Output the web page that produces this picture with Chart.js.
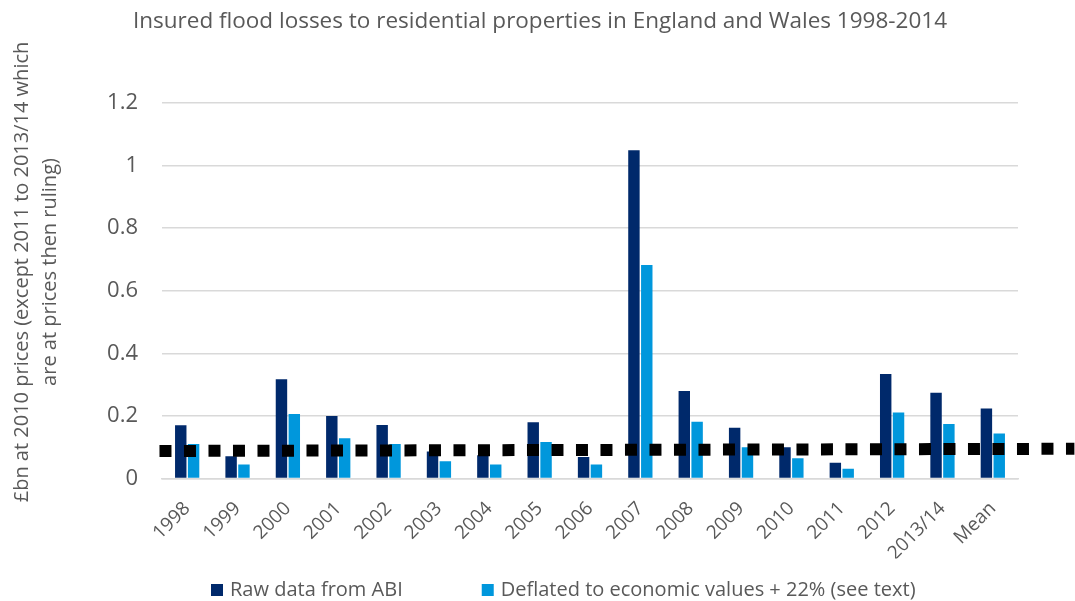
<!DOCTYPE html>
<html>
<head>
<meta charset="utf-8">
<title>Insured flood losses</title>
<script src="https://cdn.jsdelivr.net/npm/chart.js"></script>
<style>
  body { margin: 0; background: #fff; }
  #wrap { width: 1075px; height: 601px; }
</style>
</head>
<body>
<div id="wrap"><canvas id="grafica"></canvas></div>
<script>
// data (£bn)
const years = ['1998','1999','2000','2001','2002','2003','2004','2005','2006','2007','2008','2009','2010','2011','2012','2013/14','Mean'];
const rawABI = [0.170, 0.071, 0.317, 0.200, 0.171, 0.086, 0.074, 0.180, 0.069, 1.049, 0.280, 0.162, 0.100, 0.050, 0.334, 0.274, 0.224];
const deflated = [0.110, 0.045, 0.206, 0.129, 0.110, 0.055, 0.045, 0.117, 0.045, 0.682, 0.181, 0.100, 0.065, 0.031, 0.211, 0.174, 0.144];
// dotted trend line: x in category index units (runs past the plot edge), y in £bn
const trendX = [-0.55, 17.62];
const trendY = [0.088, 0.095];
const yTicks = [0, 0.2, 0.4, 0.6, 0.8, 1, 1.2];

const FONT = '"Open Sans", "Noto Sans", sans-serif';
const GREY = '#595959';

// y axis title, two lines
const yTitle = ['£bn at 2010 prices (except 2011 to 2013/14 which', 'are at prices then ruling)'];

const extras = {
  id: 'extras',
  // dotted line over the bars, placed with the chart's own scales
  afterDatasetsDraw(chart) {
    const { ctx, scales: { x, y } } = chart;
    ctx.save();
    ctx.strokeStyle = '#000';
    ctx.lineWidth = 12;
    ctx.lineCap = 'butt';
    ctx.setLineDash([12, 12.5]);
    ctx.beginPath();
    trendX.forEach((v, i) => {
      const px = x.getPixelForValue(v), py = y.getPixelForValue(trendY[i]);
      i ? ctx.lineTo(px, py) : ctx.moveTo(px, py);
    });
    ctx.stroke();
    ctx.restore();
  },
  afterDraw(chart) {
    const ctx = chart.ctx;
    ctx.save();
    // y title
    ctx.fillStyle = GREY;
    ctx.font = '20px ' + FONT;
    ctx.textAlign = 'center';
    ctx.textBaseline = 'middle';
    ctx.translate(0, 272);
    ctx.rotate(-Math.PI / 2);
    ctx.fillText(yTitle[0], 0, 22);
    ctx.fillText(yTitle[1], 0, 50);
    ctx.restore();

    // legend
    ctx.save();
    ctx.font = '20px ' + FONT;
    ctx.textBaseline = 'middle';
    ctx.textAlign = 'left';
    let lx = 211;
    const ly = 590;
    chart.data.datasets.forEach(d => {
      ctx.fillStyle = d.backgroundColor;
      ctx.fillRect(lx, ly - 6, 12, 12);
      ctx.fillStyle = GREY;
      ctx.fillText(d.label, lx + 19, ly);
      lx += 19 + ctx.measureText(d.label).width + 79;
    });
    ctx.restore();
  }
};

new Chart(document.getElementById('grafica'), {
  type: 'bar',
  data: {
    labels: years,
    datasets: [
      { label: 'Raw data from ABI', data: rawABI, backgroundColor: '#00296b' },
      { label: 'Deflated to economic values + 22% (see text)', data: deflated, backgroundColor: '#0097dc' }
    ]
  },
  options: {
    responsive: true,
    maintainAspectRatio: false,
    animation: false,
    layout: { padding: { left: 62, right: 57, top: 0, bottom: 42.5 } },
    categoryPercentage: 0.51,
    barPercentage: 0.89,
    plugins: {
      legend: { display: false },
      tooltip: { enabled: false },
      title: {
        display: true,
        text: 'Insured flood losses to residential properties in England and Wales 1998-2014',
        color: GREY,
        font: { family: FONT, size: 22.5, weight: 'normal' },
        padding: { top: 8, bottom: 68 }
      }
    },
    scales: {
      x: {
        grid: { display: false, drawTicks: false },
        border: { display: true, color: '#d9d9d9', width: 1.5 },
        ticks: { color: GREY, font: { family: FONT, size: 19 }, minRotation: 45, maxRotation: 45, padding: 19 },
        afterFit: s => { s.height = 80; }
      },
      y: {
        min: 0, max: 1.2,
        afterBuildTicks: s => { s.ticks = yTicks.map(v => ({ value: v })); },
        grid: { color: '#d9d9d9', lineWidth: 1.5, drawTicks: false },
        border: { display: false },
        ticks: { color: GREY, font: { family: FONT, size: 22 }, padding: 24,
                 callback: v => String(+v.toFixed(1)) },
        afterFit: s => { s.width = 100; }
      }
    }
  },
  plugins: [extras]
});
</script>
</body>
</html>
